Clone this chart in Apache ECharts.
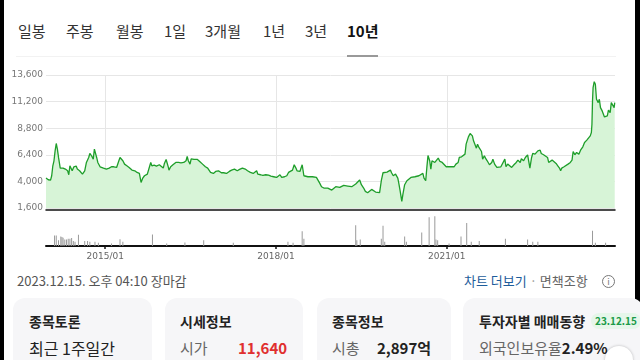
<!DOCTYPE html>
<html><head><meta charset="utf-8">
<script src="https://cdn.jsdelivr.net/npm/echarts@6/dist/echarts.min.js"></script>
<style>
html,body{margin:0;padding:0;width:640px;height:360px;overflow:hidden;background:#fff;font-family:"Noto Sans CJK KR","Noto Sans",sans-serif;}
.abs{position:absolute;white-space:nowrap;}
.tab{position:absolute;top:20px;font-size:15px;color:#333;line-height:22px;}
.card{position:absolute;top:298px;height:80px;background:#f6f6f8;border-radius:12px;}
.ct{position:absolute;top:311px;font-size:14px;font-weight:bold;color:#222;line-height:20px;}
.cv{position:absolute;top:337px;font-size:15px;color:#222;line-height:22px;}
</style></head>
<body>
<div class="abs" style="left:0;top:0;width:4px;height:360px;background:#000"></div>
<div class="abs" style="left:635px;top:0;width:5px;height:360px;background:#000"></div>
<div id="tabs"></div>
<div class="abs" style="left:16px;top:56px;width:600px;height:1px;background:#f2f2f2"></div>
<div class="abs" style="left:347px;top:55px;width:31px;height:2px;background:#999"></div>
<div id="chart" class="abs" style="left:0;top:60px;width:640px;height:205px"></div>
<div class="abs" style="left:17px;top:272px;font-size:13px;color:#555;line-height:18px">2023.12.15. 오후 04:10 장마감</div>
<div class="abs" style="left:464px;top:272px;font-size:13px;line-height:18px;color:#1d5d9b">차트 더보기<span style="color:#999"> · </span><span style="color:#666">면책조항</span></div>
<div class="abs" style="left:602px;top:275px;width:11px;height:11px;border:1px solid #777;border-radius:50%;font-size:9px;line-height:11px;text-align:center;color:#777">i</div>
<div class="card" style="left:13px;width:139px"></div>
<div class="card" style="left:165px;width:138px"></div>
<div class="card" style="left:317px;width:134px"></div>
<div class="card" style="left:463px;width:180px"></div>
<div class="ct" style="left:29px">종목토론</div>
<div class="ct" style="left:180px">시세정보</div>
<div class="ct" style="left:332px">종목정보</div>
<div class="ct" style="left:479px">투자자별 매매동향</div>
<div class="abs" style="left:591px;top:313px;height:16px;padding:0 4px;background:#e6f6ea;border-radius:8px;font-size:10px;font-weight:bold;color:#1a9a48;line-height:16px">23.12.15</div>
<div class="cv" style="left:29px;font-size:16px">최근 1주일간</div>
<div class="cv" style="left:180px;color:#666">시가</div>
<div class="cv" style="left:238px;color:#e02f2f;font-weight:bold">11,640</div>
<div class="cv" style="left:332px;color:#666">시총</div>
<div class="cv" style="left:377px;font-weight:bold">2,897억</div>
<div class="cv" style="left:479px;color:#666">외국인보유율<span style="color:#222;font-weight:bold">2.49%</span></div>
<div class="abs" style="left:605px;top:346px;width:28px;height:28px;border-radius:50%;background:#fff;box-shadow:0 0 3px rgba(0,0,0,0.25)"></div>
<script>
const tabNames = ['일봉','주봉','월봉','1일','3개월','1년','3년','10년'];
const tabLefts = [18,66,116,164,205,263,305,347];

const years = [
2013.96,2014.00,2014.04,2014.06,2014.08,2014.10,2014.12,2014.14,2014.16,2014.18,2014.21,2014.24,2014.26,2014.30,2014.32,2014.34,2014.36,2014.38,2014.40,2014.42,
2014.45,2014.49,2014.51,2014.55,2014.58,2014.60,2014.64,2014.67,2014.71,2014.73,2014.76,2014.79,2014.81,2014.83,2014.85,2014.87,2014.91,2014.94,2014.97,2015.00,
2015.02,2015.07,2015.11,2015.15,2015.20,2015.24,2015.26,2015.28,2015.31,2015.34,2015.38,2015.42,2015.47,2015.52,2015.56,2015.60,2015.62,2015.63,2015.66,2015.69,
2015.74,2015.77,2015.80,2015.82,2015.86,2015.90,2015.95,2015.98,2016.02,2016.04,2016.07,2016.09,2016.11,2016.12,2016.15,2016.19,2016.24,2016.29,2016.33,2016.38,
2016.42,2016.44,2016.46,2016.49,2016.51,2016.53,2016.56,2016.58,2016.62,2016.66,2016.71,2016.76,2016.80,2016.85,2016.90,2016.94,2016.99,2017.04,2017.08,2017.13,
2017.18,2017.22,2017.27,2017.32,2017.36,2017.41,2017.46,2017.50,2017.55,2017.60,2017.63,2017.66,2017.68,2017.73,2017.77,2017.82,2017.87,2017.91,2017.96,2018.01,
2018.04,2018.07,2018.10,2018.15,2018.19,2018.22,2018.25,2018.29,2018.32,2018.35,2018.37,2018.39,2018.42,2018.44,2018.46,2018.49,2018.52,2018.56,2018.60,2018.64,
2018.67,2018.71,2018.74,2018.77,
2018.80,2018.84,2018.87,2018.91,2018.94,2018.98,2019.01,2019.05,2019.08,2019.12,2019.15,2019.19,2019.22,2019.26,2019.29,2019.33,2019.36,2019.40,2019.43,2019.47,
2019.50,2019.54,2019.57,2019.61,2019.64,2019.68,2019.71,2019.75,2019.78,2019.82,2019.85,2019.88,2019.91,2019.95,2019.98,2020.01,2020.03,2020.06,2020.10,2020.14,
2020.16,2020.18,2020.21,2020.23,2020.26,2020.30,2020.33,2020.37,2020.40,2020.44,2020.47,2020.51,2020.54,2020.58,2020.60,2020.63,2020.65,2020.67,2020.70,2020.72,
2020.74,2020.77,2020.79,2020.81,2020.85,2020.88,2020.92,2020.95,2020.99,2021.02,2021.06,2021.09,2021.13,2021.16,2021.20,2021.22,2021.26,2021.29,2021.32,2021.34,
2021.38,2021.41,2021.45,2021.47,2021.49,2021.52,2021.54,2021.56,2021.59,2021.61,2021.63,2021.66,2021.68,2021.71,2021.75,2021.79,2021.81,2021.84,2021.88,2021.91,
2021.95,2021.98,2022.02,2022.04,2022.07,2022.10,2022.14,2022.16,2022.18,2022.22,2022.25,2022.29,2022.31,2022.35,2022.38,2022.42,2022.44,2022.46,2022.49,2022.51,
2022.55,2022.57,2022.60,2022.64,2022.66,2022.70,2022.73,2022.77,2022.79,2022.81,2022.85,2022.88,2022.92,2022.95,2022.98,2023.00,2023.02,2023.06,2023.09,2023.13,
2023.17,2023.20,2023.22,2023.25,2023.28,2023.32,2023.35,2023.39,2023.42,2023.46,2023.49,2023.52,2023.54,2023.55,2023.56,2023.57,2023.59,2023.61,2023.63,2023.66,
2023.68,2023.70,2023.73,2023.75,2023.77,2023.80,2023.82,2023.84,2023.87,2023.89,2023.91,2023.94,2023.95
];
const prices = [
4300,4150,4120,4510,5410,5860,6760,7420,6910,6160,5200,5200,5200,5110,5260,4960,4600,5410,5500,4960,
5320,5380,5110,4960,4810,4660,4960,5710,6160,6520,6310,6010,6910,6880,6160,5710,5320,5410,5200,5320,
5110,5200,5320,5320,5260,5860,6160,6160,5860,5560,5410,5260,5020,4960,4810,4720,4660,3910,4300,4510,
4660,4810,5710,5410,5470,5380,5500,5320,5200,5620,5980,5860,5260,5020,5320,5500,5710,5710,5680,5710,
5860,6250,5860,5560,6040,6100,5980,6160,5980,5800,5560,5320,5200,4810,4720,4900,4960,4780,4780,4720,
4900,5020,5110,4960,5080,5200,5110,4960,4810,4720,4660,4960,4660,4600,4540,4600,4570,4480,4420,4360,
4480,4600,4360,4420,4510,4810,4870,5020,5500,5200,4960,4870,4900,4810,5500,4510,4360,4420,4420,4420,
4510,4360,4210,3820,
3520,3400,3520,3400,3340,3220,3400,3520,3580,3460,3580,3640,3700,3580,3760,3520,3580,3760,3880,4120,
3700,3400,3100,2980,3100,3280,3220,3040,2980,2980,4060,4780,4660,4840,4960,5020,4780,4510,4660,4300,
3760,3160,2200,2860,3700,4060,4120,4360,4300,4420,4360,4510,4360,4720,4300,4060,5260,6340,5860,5110,
5860,6010,5710,5860,6100,5800,5710,5560,5320,5410,5320,5470,5320,5560,5710,6160,6220,6220,6460,7360,
8020,8320,8110,7660,7810,7000,7360,7120,7210,6700,6010,6310,6100,5860,5500,5710,6010,5560,5260,5110,
5320,5200,6010,5320,5560,5410,5260,5110,5500,5710,5920,5710,6040,5860,6160,6400,5800,5200,6160,6520,
6460,6610,6760,6820,6520,6400,6310,6160,5710,5860,5920,5860,5620,5410,5200,4960,5200,5320,5500,5560,
5710,5920,6700,6400,6610,6460,6820,7120,7510,7720,7870,8110,8410,9160,11260,12460,13000,12760,11410,11110,
11410,10660,10360,10210,9820,10000,9910,10420,10210,11110,10960,10660,11110
];
// volume, in units of 10,000 shares
const volYears = [
2014.11,2014.14,2014.18,2014.22,2014.24,2014.26,2014.29,2014.32,2014.35,2014.38,2014.41,2014.44,2014.47,2014.53,2014.64,2014.69,2014.73,2014.82,2014.88,2015.11,
2015.26,2015.31,2015.83,2016.08,2016.40,2016.73,2017.25,2018.21,2018.30,2018.46,2018.49,2019.40,2019.42,2019.48,2019.85,2019.88,2019.91,2020.26,2020.29,2020.56,
2020.69,2020.79,2020.81,2020.84,2021.04,2021.25,2021.35,2021.43,2021.57,2022.03,2022.42,2022.51,2022.60,2023.56,2023.61,2023.79
];
const volumes = [
33,33,18,30,28,26,20,20,23,23,25,16,13,35,16,16,13,13,10,8,
21,13,36,8,11,18,10,13,10,46,23,65,18,20,23,63,13,30,13,42,
90,93,20,18,8,30,72,13,16,23,20,13,13,48,10,10
];
const yTicks = [1600,4000,6400,8800,11200,13600];
const xTickYears = [2015,2018,2021];

document.getElementById('tabs').innerHTML = tabNames.map((t,i)=>
  `<div class="tab" style="left:${tabLefts[i]}px;${i===tabNames.length-1?'font-weight:bold;color:#111':''}">${t}</div>`).join('');

const xMin = 2013.96, xMax = 2023.955;
const fmtYear = v => Math.round(v) + '/01';
const chart = echarts.init(document.getElementById('chart'), null, {renderer:'canvas'});
chart.setOption({
  animation:false,
  grid:[
    {left:46, right:25, top:15, height:133},
    {left:46, right:25, top:154, height:32}
  ],
  xAxis:[
    {type:'value', gridIndex:0, min:xMin, max:xMax, offset:2,
     axisLine:{show:true, lineStyle:{color:'#111', width:1.5}},
     axisTick:{show:false, customValues:xTickYears},
     axisLabel:{show:false, customValues:xTickYears},
     splitLine:{show:true, lineStyle:{color:'#e6e6e6', width:1}}},
    {type:'value', gridIndex:1, min:xMin, max:xMax,
     axisLine:{show:true, lineStyle:{color:'#111', width:2}},
     axisTick:{show:true, customValues:xTickYears, length:3, lineStyle:{color:'#111', width:1.5}},
     axisLabel:{show:true, customValues:xTickYears, formatter:fmtYear, color:'#666', fontSize:9, fontFamily:'DejaVu Sans', margin:6},
     splitLine:{show:false}}
  ],
  yAxis:[
    {type:'value', gridIndex:0, min:yTicks[0], max:yTicks[yTicks.length-1], interval:yTicks[1]-yTicks[0],
     axisLine:{show:false}, axisTick:{show:false},
     axisLabel:{color:'#777', fontSize:9, fontFamily:'DejaVu Sans', margin:3, formatter:v=>v.toLocaleString('en-US')},
     splitLine:{show:true, lineStyle:{color:'#e6e6e6', width:1}}},
    {type:'value', gridIndex:1, min:0, max:100, show:false, splitLine:{show:false}}
  ],
  series:[
    {type:'line', xAxisIndex:0, yAxisIndex:0, showSymbol:false, symbol:'none',
     data: years.map((y,i)=>[y, prices[i]]),
     lineStyle:{color:'#1e9e2a', width:1.3},
     areaStyle:{color:'#d7f4d7', origin:'start', opacity:1}},
    {type:'bar', xAxisIndex:1, yAxisIndex:1, barWidth:1,
     data: volYears.map((y,i)=>[y, volumes[i]]),
     itemStyle:{color:'#9a9a9a'}}
  ]
});
</script>
</body></html>
